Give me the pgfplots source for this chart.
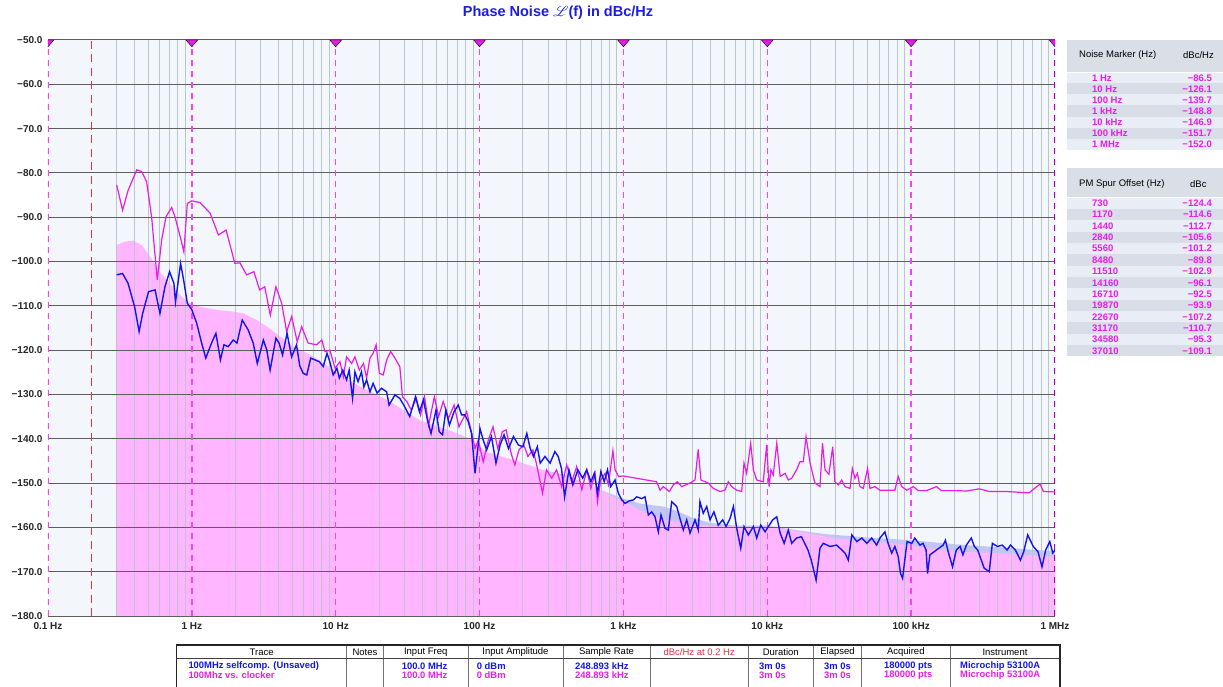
\documentclass[border=0pt]{standalone}
\usepackage{pgfplots}
\pgfplotsset{compat=1.18}
\usepackage{fontspec}
\usepackage{mathrsfs}
\setmainfont{Liberation Sans}
\definecolor{mag}{HTML}{E81CE8}
\definecolor{mkline}{HTML}{F048F0}
\definecolor{blu}{HTML}{1414EE}
\definecolor{pinkfill}{HTML}{FFB5FF}
\definecolor{bluefill}{HTML}{C3C6F4}
\definecolor{bg}{HTML}{F3F6FB}
\definecolor{gridv}{HTML}{BCC4CE}
\definecolor{gridh}{HTML}{5E5E5E}
\definecolor{titleblue}{HTML}{1C1CE8}
\definecolor{hdr}{HTML}{D9DEE7}
\definecolor{rowa}{HTML}{E8EDF6}
\definecolor{rowb}{HTML}{D8DDE8}
\definecolor{redm}{HTML}{E83040}
\definecolor{darkmag}{HTML}{B000B0}
\begin{document}
\begin{tikzpicture}[x=1pt,y=1pt]
\path[use as bounding box] (0,0) rectangle (1223,686);
\begin{axis}[
  at={(48pt,70pt)}, anchor=south west,
  width=1007pt, height=576pt, scale only axis,
  xmode=log, xmin=0.1, xmax=1000000, ymin=-180, ymax=-50,
  axis background/.style={fill=bg},
  axis line style={draw=none},
  xtick={0.1,1,10,100,1000,10000,100000,1000000},
  xticklabels={0.1 Hz,1 Hz,10 Hz,100 Hz,1 kHz,10 kHz,100 kHz,1 MHz},
  minor xtick={},
  ytick={-180,-170,-160,-150,-140,-130,-120,-110,-100,-90,-80,-70,-60,-50},
  yticklabels={−180.0,−170.0,−160.0,−150.0,−140.0,−130.0,−120.0,−110.0,−100.0,−90.0,−80.0,−70.0,−60.0,−50.0},
  major tick length=0pt, minor tick length=0pt,
  tick label style={font=\bfseries\fontsize{10}{12}\selectfont, text=black!85},
  xticklabel style={yshift=-3pt},
  yticklabel style={xshift=-2pt},
  clip marker paths=true,
]
% floor estimate of the blue trace
\addplot[fill=bluefill, draw=none, forget plot] coordinates {
(100,-180) (100,-143) (200,-146.2) (300,-147.3) (400,-148.2) (600,-150.8) (1000,-153.5) (1300,-154.6) (1600,-155.0) (1900,-155.3) (2300,-156.2) (3000,-157.8) (4000,-159.0) (6000,-159.6) (10000,-159.6) (15000,-160.5) (25000,-161.5) (50000,-162.3) (100000,-162.9) (200000,-163.8) (500000,-164.7) (1000000,-165.4) (1000000,-180)};
% floor estimate of the magenta trace
\addplot[fill=pinkfill, draw=none, forget plot] coordinates {
(0.3,-180) (0.3,-96.3) (0.343,-95.5) (0.392,-95.3) (0.448,-96.3) (0.512,-98.9) (0.585,-101.9) (0.67,-104.2) (0.765,-106.4) (0.874,-108.3) (0.97,-109.4) (1.13,-110.2) (1.48,-110.9) (1.93,-111.3) (2.28,-111.7) (2.83,-113.2) (3.33,-114.7) (4.14,-117.0) (5.12,-119.2) (6.35,-120.7) (7.86,-122.5) (10.3,-125.2) (13.4,-127.5) (22.6,-131.2) (38.2,-135.8) (65,-138.4) (84.6,-139.9) (110,-142.9) (188,-145.2) (320,-147.8) (546,-150.0) (947,-153.8) (1300,-156.1) (1990,-158.3) (3380,-159.5) (5730,-159.8) (9900,-159.8) (16900,-161.0) (28600,-162.4) (79000,-163.7) (134000,-164.7) (230000,-165.5) (390000,-165.8) (1000000,-166.6) (1000000,-180)};
% grid
\pgfplotsinvokeforeach{0.3,0.4,0.5,0.6,0.7,0.8,0.9,2,3,4,5,6,7,8,9,20,30,40,50,60,70,80,90,200,300,400,500,600,700,800,900,2000,3000,4000,5000,6000,7000,8000,9000,20000,30000,40000,50000,60000,70000,80000,90000,200000,300000,400000,500000,600000,700000,800000,900000}{
  \addplot[gridv, line width=0.9pt, forget plot] coordinates {(#1,-180) (#1,-50)};
}
\pgfplotsinvokeforeach{-180,-170,-160,-150,-140,-130,-120,-110,-100,-90,-80,-70,-60,-50}{
  \addplot[gridh, line width=1pt, forget plot] coordinates {(0.1,#1) (1000000,#1)};
}
% marker lines
\addplot[mkline, line width=1.5pt, dash pattern=on 6pt off 5pt] coordinates {(0.1,-180) (0.1,-50)};
\addplot[redm, line width=1.4pt, dash pattern=on 8pt off 5.5pt] coordinates {(0.2,-180) (0.2,-50)};
\pgfplotsinvokeforeach{1,10,100,1000,10000,100000}{
  \addplot[mkline, line width=1.4pt, dash pattern=on 6pt off 5pt] coordinates {(#1,-180) (#1,-50)};
}
\addplot[darkmag, line width=1.5pt, dash pattern=on 6pt off 5pt] coordinates {(1000000,-180) (1000000,-50)};
% magenta trace
\addplot[mag, line width=1.2pt] coordinates {
(0.300,-82.7) (0.330,-88.4) (0.361,-83.9) (0.414,-79.3) (0.448,-79.7) (0.485,-82.0) (0.525,-89.9) (0.575,-104.2) (0.617,-95.1) (0.661,-89.9) (0.724,-87.8) (0.763,-89.9) (0.83,-94.4) (0.88,-97.8) (0.93,-86.9) (1.0,-86.3) (1.14,-86.7) (1.34,-89.1) (1.53,-94.0) (1.73,-92.9) (1.99,-100.4) (2.16,-100.3) (2.40,-103.0) (2.70,-102.3) (2.96,-106.4) (3.21,-105.7) (3.51,-112.1) (3.84,-105.7) (4.21,-109.4) (4.56,-115.8) (4.94,-112.4) (5.40,-118.1) (5.80,-114.7) (6.43,-118.4) (7.36,-118.8) (8.0,-117.7) (8.42,-120.3) (9.1,-120.0) (9.9,-124.1) (10.7,-122.6) (11.3,-126.0) (11.9,-121.5) (12.9,-123.0) (13.6,-121.5) (14.6,-124.5) (15.6,-123.0) (16.4,-126.3) (17.3,-121.8) (18.2,-120.7) (19.1,-118.8) (20.1,-125.2) (21.4,-125.6) (22.6,-122.2) (24.1,-120.3) (25.8,-121.8) (27.9,-123.7) (29.1,-130.5) (31.2,-131.6) (33.5,-133.5) (36.3,-130.9) (38.9,-134.6) (41.4,-130.5) (44.3,-136.9) (48.5,-130.5) (51.9,-135.0) (55.9,-131.6) (60.8,-135.4) (66.5,-132.4) (71.9,-137.3) (81.3,-133.9) (88.2,-138.8) (93,-142.2) (98,-140.3) (106,-145.2) (115,-140.3) (124,-137.3) (134,-142.2) (144,-138.4) (153,-138.0) (167,-143.7) (176,-145.9) (188,-142.5) (203,-141.4) (217,-144.0) (235,-142.5) (248,-145.5) (274,-152.3) (292,-147.0) (317,-148.9) (343,-147.0) (372,-150.8) (403,-145.9) (437,-149.7) (473,-146.3) (514,-151.5) (557,-147.0) (594,-151.2) (636,-147.8) (660,-154.2) (696,-149.3) (746,-147.8) (786,-150.4) (845,-142.7) (875,-147.0) (925,-148.5) (1000,-148.4) (1700,-149.7) (1797,-151.6) (1895,-150.8) (2084,-151.9) (2224,-150.4) (2370,-149.7) (2540,-150.8) (2900,-150.0) (3146,-149.3) (3310,-142.4) (3460,-149.3) (3890,-150.0) (4220,-151.2) (4690,-151.9) (5080,-151.6) (5360,-149.7) (5660,-150.8) (6130,-151.6) (6640,-151.9) (6890,-145.5) (7190,-147.8) (7670,-141.0) (8000,-147.0) (8440,-149.3) (9380,-149.7) (9900,-141.4) (10300,-150.8) (10600,-147.0) (11000,-148.2) (11640,-141.0) (12290,-148.5) (13300,-147.8) (14000,-149.3) (14780,-148.9) (15980,-147.0) (16870,-145.2) (17800,-145.2) (18600,-139.5) (19840,-145.5) (21450,-150.0) (23250,-150.8) (24200,-141.0) (25200,-147.0) (26800,-148.0) (28500,-141.8) (29500,-149.7) (31200,-150.4) (32900,-149.3) (34700,-150.8) (37600,-151.2) (39000,-146.7) (40700,-148.9) (42300,-147.8) (44100,-150.8) (46500,-151.2) (49800,-146.7) (51700,-151.2) (56000,-150.8) (60600,-151.6) (67500,-151.6) (77100,-151.6) (81300,-148.5) (86000,-150.8) (93200,-151.6) (103600,-150.8) (112000,-151.7) (128000,-151.7) (150000,-150.8) (162000,-151.7) (206000,-151.7) (241000,-151.8) (298000,-151.3) (349000,-151.9) (455000,-151.9) (660000,-152.2) (788000,-150.2) (830000,-151.9) (1000000,-152.0)};
% blue trace
\addplot[blu, line width=1.4pt] coordinates {
(0.300,-103.0) (0.330,-102.7) (0.36,-104.9) (0.40,-110.2) (0.43,-115.8) (0.455,-111.7) (0.50,-106.8) (0.555,-106.4) (0.60,-111.7) (0.65,-105.7) (0.70,-102.3) (0.75,-104.9) (0.77,-109.1) (0.835,-100.4) (0.88,-104.5) (0.93,-109.4) (1.0,-110.9) (1.08,-113.9) (1.17,-118.4) (1.25,-121.8) (1.37,-118.4) (1.47,-116.2) (1.58,-122.2) (1.67,-118.8) (1.79,-119.2) (1.94,-117.7) (2.06,-118.4) (2.24,-113.2) (2.46,-115.4) (2.67,-118.4) (2.85,-123.0) (3.14,-117.7) (3.32,-120.0) (3.5,-124.5) (3.84,-117.3) (4.04,-118.4) (4.27,-121.1) (4.59,-116.2) (4.94,-121.5) (5.34,-118.8) (5.62,-123.5) (5.93,-125.2) (6.29,-125.6) (6.7,-121.8) (7.18,-122.2) (7.69,-122.6) (8.19,-123.7) (8.7,-120.7) (9.1,-122.6) (9.6,-125.6) (10.2,-124.1) (10.6,-126.3) (11.2,-124.5) (11.9,-126.7) (12.4,-124.5) (13.1,-130.9) (13.6,-124.9) (14.3,-127.1) (15.1,-124.9) (15.7,-128.3) (16.4,-126.7) (17.3,-129.4) (18.2,-127.5) (19.4,-129.7) (20.8,-128.6) (22.6,-129.4) (23.5,-132.4) (25.8,-130.1) (27.9,-130.9) (30.2,-132.8) (32.7,-135.0) (35.9,-130.5) (38.2,-133.9) (40.7,-131.2) (43.6,-136.1) (46.0,-138.8) (49.8,-133.5) (52.4,-138.4) (55.3,-139.1) (58.3,-133.5) (61.7,-136.9) (66.5,-133.9) (71.1,-132.4) (75.0,-134.6) (79,-134.6) (83.3,-136.1) (88.0,-138.8) (93.0,-147.8) (100.7,-137.7) (106,-140.3) (112,-142.5) (121,-139.5) (130,-145.5) (139,-141.4) (148,-139.1) (159,-142.2) (172,-139.5) (186,-141.4) (200,-141.8) (213,-138.8) (225,-142.2) (237,-144.0) (252,-141.8) (264,-145.5) (285,-144.0) (309,-145.5) (334,-142.9) (352,-144.0) (371,-146.7) (390,-153.1) (418,-147.0) (445,-150.4) (482,-147.0) (521,-148.9) (555,-147.0) (595,-149.7) (627,-147.8) (661,-152.3) (697,-147.4) (735,-149.7) (775,-147.0) (816,-150.8) (875,-149.3) (922,-152.3) (975,-153.8) (1026,-154.6) (1100,-154.0) (1172,-153.8) (1237,-153.1) (1340,-153.5) (1413,-153.1) (1490,-157.2) (1573,-156.5) (1658,-157.6) (1748,-161.0) (1825,-157.2) (1946,-160.2) (2052,-160.6) (2165,-154.2) (2347,-155.3) (2473,-158.0) (2608,-160.6) (2755,-158.3) (2903,-161.3) (3146,-158.3) (3313,-160.6) (3403,-154.2) (3590,-156.8) (3792,-155.3) (3999,-158.3) (4258,-156.5) (4564,-159.5) (4898,-158.3) (5170,-159.8) (5509,-158.0) (5812,-155.3) (6132,-160.2) (6539,-164.7) (6894,-159.8) (7384,-161.7) (8004,-159.8) (8444,-162.4) (9009,-159.5) (9656,-161.0) (10180,-159.8) (10910,-158.3) (11640,-157.6) (12290,-161.3) (13100,-163.6) (14000,-160.6) (14780,-163.6) (15980,-162.4) (17270,-162.1) (18200,-163.6) (19170,-165.1) (20210,-167.4) (21850,-171.9) (23250,-164.7) (24500,-163.6) (27300,-164.3) (30300,-164.0) (32000,-164.7) (34700,-165.8) (36600,-167.4) (38700,-161.7) (41900,-163.2) (45400,-162.4) (49200,-163.6) (53200,-162.4) (57600,-164.0) (60700,-162.4) (65700,-161.0) (69200,-163.6) (73300,-165.8) (77100,-164.3) (81300,-166.6) (84400,-170.4) (87200,-171.5) (90300,-167.4) (93700,-163.2) (101000,-163.6) (106000,-162.4) (115000,-164.0) (121000,-163.6) (127000,-165.1) (130000,-170.4) (135000,-166.2) (150000,-165.1) (167000,-164.0) (173000,-162.9) (181000,-165.5) (194000,-168.9) (206000,-165.1) (219000,-164.3) (229000,-166.2) (242000,-164.0) (262000,-162.4) (275000,-164.3) (290000,-165.1) (322000,-169.2) (349000,-170.0) (367000,-163.6) (397000,-164.3) (430000,-164.0) (465000,-165.1) (490000,-164.0) (530000,-165.1) (575000,-167.4) (606000,-165.5) (646000,-161.7) (706000,-164.3) (762000,-165.5) (812000,-168.9) (862000,-165.1) (920000,-163.2) (965000,-165.8) (1000000,-165.1)};
% marker triangles
\addplot[only marks, mark=triangle*, mark size=4.5pt, mark options={fill=mag, draw=none, yshift=-2.25pt, rotate=180, xscale=1.5}] coordinates {(0.1,-50) (1,-50) (10,-50) (100,-50) (1000,-50) (10000,-50) (100000,-50) (1000000,-50)};
\end{axis}
% title
\node[font=\bfseries\fontsize{14.5}{16}\selectfont, text=titleblue] at (558,673) {Phase Noise $\mathscr{L}$(f) in dBc/Hz};
\tikzset{every node/.append style={inner sep=0pt}}
% noise marker table
\fill[hdr] (1067,646) rectangle (1223,613.8);
\foreach \i in {0,...,6} {\fill[rowa] (1067,{613.8-11.1*\i}) rectangle (1223,{613.8-11.1*(\i+1)});}
\foreach \i in {1,3,5} {\fill[rowb] (1067,{613.8-11.1*\i}) rectangle (1223,{613.8-11.1*(\i+1)});}
\draw[white, line width=0.6pt] (1067,613.8) -- (1223,613.8);
\node[anchor=west, font=\fontsize{9.5}{11}\selectfont] at (1079,631) {Noise Marker (Hz)};
\node[anchor=west, font=\fontsize{9.5}{11}\selectfont] at (1183,631) {dBc/Hz};
\foreach \lab/\val [count=\i from 0] in {1 Hz/−86.5,10 Hz/−126.1,100 Hz/−139.7,1 kHz/−148.8,10 kHz/−146.9,100 kHz/−151.7,1 MHz/−152.0} {
  \node[anchor=west, text=mag, font=\bfseries\fontsize{9.5}{11}\selectfont] at (1092,{613.8-11.1*\i-5.55}) {\lab};
  \node[anchor=east, text=mag, font=\bfseries\fontsize{9.5}{11}\selectfont] at (1212,{613.8-11.1*\i-5.55}) {\val};
}
% PM spur table
\fill[hdr] (1067,518) rectangle (1223,488.3);
\foreach \i in {0,...,13} {\fill[rowa] (1067,{488.3-11.34*\i}) rectangle (1223,{488.3-11.34*(\i+1)});}
\foreach \i in {1,3,5,7,9,11,13} {\fill[rowb] (1067,{488.3-11.34*\i}) rectangle (1223,{488.3-11.34*(\i+1)});}
\draw[white, line width=0.6pt] (1067,488.3) -- (1223,488.3);
\node[anchor=west, font=\fontsize{9.5}{11}\selectfont] at (1079,502) {PM Spur Offset (Hz)};
\node[anchor=west, font=\fontsize{9.5}{11}\selectfont] at (1190,502) {dBc};
\foreach \lab/\val [count=\i from 0] in {730/−124.4,1170/−114.6,1440/−112.7,2840/−105.6,5560/−101.2,8480/−89.8,11510/−102.9,14160/−96.1,16710/−92.5,19870/−93.9,22670/−107.2,31170/−110.7,34580/−95.3,37010/−109.1} {
  \node[anchor=west, text=mag, font=\bfseries\fontsize{9.5}{11}\selectfont] at (1092,{488.3-11.34*\i-5.67}) {\lab};
  \node[anchor=east, text=mag, font=\bfseries\fontsize{9.5}{11}\selectfont] at (1212,{488.3-11.34*\i-5.67}) {\val};
}
% bottom table
\fill[white] (176.7,41) rectangle (1060,-5);
\foreach \x in {346.7,383.3,468,563,650,748.3,813.3,861.7,950} {\draw[black!55, line width=0.8pt] (\x,41) -- (\x,-5);}
\draw[black!75, line width=1pt] (176.7,27.7) -- (1060,27.7);
\draw[black!85, line width=1.3pt] (176.7,-5) -- (176.7,41) -- (1060,41) -- (1060,-5);
\foreach \x/\t in {261.7/Trace,365/Notes,425.7/Input Freq,515.5/Input Amplitude,606.5/Sample Rate,780.8/Duration,837.5/Elapsed,905.8/Acquired,1005/Instrument} {
  \node[font=\fontsize{9.5}{11}\selectfont] at (\x,33.5) {\t};
}
\node[font=\fontsize{9.5}{11}\selectfont, text=redm] at (699.2,33.5) {dBc/Hz at 0.2 Hz};
\foreach \x/\a/\b in {188.3/100MHz selfcomp. (Unsaved)/100Mhz vs. clocker,401.7/100.0 MHz/100.0 MHz,476.7/0 dBm/0 dBm,575/248.893 kHz/248.893 kHz,759/3m 0s/3m 0s,824/3m 0s/3m 0s,884/180000 pts/180000 pts,960/Microchip 53100A/Microchip 53100A} {
  \node[anchor=west, text=blu, font=\bfseries\fontsize{9.4}{11}\selectfont] at (\x,20) {\a};
  \node[anchor=west, text=mag, font=\bfseries\fontsize{9.4}{11}\selectfont] at (\x,10.5) {\b};
}
\end{tikzpicture}
\end{document}
